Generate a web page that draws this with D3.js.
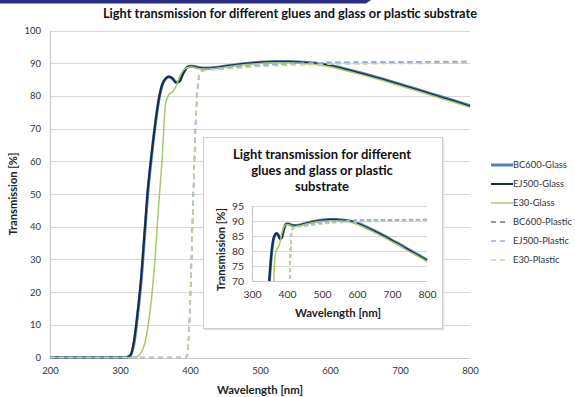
<!DOCTYPE html>
<html>
<head>
<meta charset="utf-8">
<script src="https://cdn.jsdelivr.net/npm/d3@7"></script>
<style>
  html, body { margin: 0; padding: 0; background: #fff; }
  svg { display: block; font-family: Lato, "Open Sans", sans-serif; }
</style>
</head>
<body>
<svg id="chart" width="575" height="397"></svg>
<script>
// Wavelength sample points (nm), shared by every series
const wavelengths = [200, 300, 310, 315, 320, 325, 330, 335, 340, 345, 350, 355, 360, 365, 370, 375, 380, 385, 390, 394, 396, 398, 400, 402, 404, 406, 408, 410, 412, 415, 420, 425, 440, 460, 480, 500, 520, 540, 560, 580, 600, 625, 650, 675, 700, 725, 750, 775, 800];

// Transmission (%) per series
const bc600Glass = [0, 0, 0.1, 0.6, 4.4, 12.8, 23, 37, 51, 61.5, 70.6, 78.2, 83.1, 85.2, 85.8, 85.3, 84.2, 84.5, 86.9, 88.3, 88.8, 89.0, 89.1, 89.1, 89.1, 89.0, 88.9, 88.8, 88.7, 88.6, 88.5, 88.5, 88.8, 89.4, 89.9, 90.3, 90.5, 90.5, 90.3, 90.0, 89.4, 88.1, 86.7, 85.2, 83.6, 82.0, 80.3, 78.7, 77.0];
const ej500Glass = [0, 0, 0.1, 0.8, 5, 13.5, 24, 38, 52, 62, 71, 78.5, 83.3, 85.3, 85.9, 85.3, 84.0, 84.4, 86.8, 88.2, 88.7, 88.9, 89.0, 89.0, 89.0, 88.9, 88.8, 88.7, 88.6, 88.5, 88.4, 88.4, 88.7, 89.3, 89.8, 90.2, 90.4, 90.4, 90.2, 89.9, 89.2, 87.9, 86.5, 85.0, 83.4, 81.8, 80.1, 78.5, 76.8];
const e30Glass = [0, 0, 0, 0, 0, 0.3, 1.5, 4, 9.5, 18, 30, 46, 60, 77.5, 80.4, 81.3, 82.9, 85.7, 87.7, 88.4, 88.6, 88.7, 88.8, 88.8, 88.8, 88.7, 88.6, 88.5, 88.4, 88.3, 88.2, 88.2, 88.5, 89.1, 89.6, 89.9, 90.1, 90.1, 89.9, 89.6, 88.9, 87.6, 86.2, 84.7, 83.1, 81.5, 79.8, 78.2, 76.5];
const bc600Plastic = [0, 0, 0, 0, 0, 0, 0, 0, 0, 0, 0, 0, 0, 0, 0, 0, 0, 0, 0, 0, 0.8, 5.5, 15, 29, 44, 58, 71, 79.5, 84.5, 87.2, 87.9, 88.1, 88.3, 88.6, 89.0, 89.3, 89.6, 89.8, 90.0, 90.1, 90.2, 90.2, 90.3, 90.3, 90.3, 90.4, 90.4, 90.4, 90.5];
const ej500Plastic = [0, 0, 0, 0, 0, 0, 0, 0, 0, 0, 0, 0, 0, 0, 0, 0, 0, 0, 0, 0, 1, 6, 16, 30, 45, 59, 72, 80, 85, 87.3, 88.0, 88.2, 88.4, 88.7, 89.1, 89.4, 89.7, 89.9, 90.0, 90.1, 90.2, 90.3, 90.3, 90.4, 90.4, 90.4, 90.5, 90.5, 90.5];
const e30Plastic = [0, 0, 0, 0, 0, 0, 0, 0, 0, 0, 0, 0, 0, 0, 0, 0, 0, 0, 0, 0, 0.8, 5, 14, 28, 43, 57, 70, 79, 84.3, 87.0, 87.7, 87.9, 88.1, 88.4, 88.7, 89.0, 89.2, 89.4, 89.5, 89.6, 89.7, 89.8, 89.8, 89.9, 89.9, 89.9, 90.0, 90.0, 90.0];

const seriesNames = ["BC600-Glass", "EJ500-Glass", "E30-Glass", "BC600-Plastic", "EJ500-Plastic", "E30-Plastic"];
const seriesValues = [bc600Glass, ej500Glass, e30Glass, bc600Plastic, ej500Plastic, e30Plastic];

// Axis ticks
const mainXTicks = [200, 300, 400, 500, 600, 700, 800];
const mainYTicks = [0, 10, 20, 30, 40, 50, 60, 70, 80, 90, 100];
const insetXTicks = [300, 400, 500, 600, 700, 800];
const insetYTicks = [70, 75, 80, 85, 90, 95];

// Text
const mainTitle = "Light transmission for different glues and glass or plastic substrate";
const insetTitle = ["Light transmission for different", "glues and glass or plastic", "substrate"];
const xTitle = "Wavelength [nm]";
const yTitle = "Transmission [%]";

// Series styling
const styles = [
  { color: "#4f81bd", width: 3.0, dash: null },
  { color: "#1c2a3f", width: 2.0, dash: null },
  { color: "#a9c76c", width: 1.5, dash: null },
  { color: "#8064a2", width: 1.6, dash: "5,4" },
  { color: "#8eb4e3", width: 1.6, dash: "5,4" },
  { color: "#c3d69b", width: 1.6, dash: "5,4" }
];

const series = seriesNames.map((name, i) => ({
  name,
  style: styles[i],
  points: wavelengths.map((w, j) => ({ w, t: seriesValues[i][j] }))
}));

const svg = d3.select("#chart");
svg.append("rect").attr("width", 575).attr("height", 397).attr("fill", "#fff");

// Slide header strip
svg.append("path")
  .attr("d", "M0,0 L371,0 L366,3.6 L0,3.6 Z")
  .attr("fill", "#2b2d7f");

const gridColor = "#d9d9d9";
const textColor = "#333";

// ---------- Main chart ----------
const x = d3.scaleLinear().domain([200, 800]).range([50, 470]);
const y = d3.scaleLinear().domain([0, 100]).range([357.5, 30.5]);

const main = svg.append("g");

main.append("g").selectAll("line")
  .data(mainYTicks.filter(v => v > 0))
  .join("line")
  .attr("x1", x(200)).attr("x2", x(800))
  .attr("y1", d => Math.round(y(d)) + 0.5).attr("y2", d => Math.round(y(d)) + 0.5)
  .attr("stroke", gridColor).attr("stroke-width", 1.2);

// axis lines
main.append("line")
  .attr("x1", x(200) + 0.5).attr("x2", x(200) + 0.5)
  .attr("y1", y(100)).attr("y2", y(0))
  .attr("stroke", "#c8c8c8").attr("stroke-width", 1.2);
main.append("line")
  .attr("x1", x(200)).attr("x2", x(800))
  .attr("y1", Math.round(y(0)) + 0.5).attr("y2", Math.round(y(0)) + 0.5)
  .attr("stroke", "#c8c8c8").attr("stroke-width", 1.2);

const yAxis = main.append("g")
  .attr("transform", `translate(${x(200)},0)`)
  .call(d3.axisLeft(y).tickValues(mainYTicks).tickSize(0).tickPadding(9));
yAxis.select(".domain").remove();

const xAxis = main.append("g")
  .attr("transform", `translate(0,${y(0)})`)
  .call(d3.axisBottom(x).tickValues(mainXTicks).tickSize(0).tickPadding(10));
xAxis.select(".domain").remove();

[yAxis, xAxis].forEach(a => a.selectAll("text")
  .attr("font-family", "Lato, sans-serif")
  .attr("font-size", 9.5)
  .attr("fill", textColor));

const line = d3.line()
  .x(d => x(d.w))
  .y(d => y(d.t))
  .curve(d3.curveMonotoneX);

main.append("g").selectAll("path")
  .data(series)
  .join("path")
  .attr("d", d => line(d.points))
  .attr("fill", "none")
  .attr("stroke", d => d.style.color)
  .attr("stroke-width", d => d.style.width)
  .attr("stroke-dasharray", d => d.style.dash)
  .attr("stroke-linejoin", "round");

svg.append("text")
  .attr("x", 290).attr("y", 17.5)
  .attr("text-anchor", "middle")
  .attr("font-size", 12.8).attr("font-weight", "bold")
  .attr("fill", "#111")
  .text(mainTitle);

svg.append("text")
  .attr("x", 260).attr("y", 393.5)
  .attr("text-anchor", "middle")
  .attr("font-size", 11.4).attr("font-weight", "bold")
  .attr("fill", "#222")
  .text(xTitle);

svg.append("text")
  .attr("transform", "translate(17,194) rotate(-90)")
  .attr("text-anchor", "middle")
  .attr("font-size", 11.2).attr("font-weight", "bold")
  .attr("fill", "#222")
  .text(yTitle);

// ---------- Legend ----------
const legend = svg.append("g");
const legendItem = legend.selectAll("g")
  .data(series)
  .join("g")
  .attr("transform", (d, i) => `translate(491,${165 + i * 19})`);
legendItem.append("line")
  .attr("x1", 0).attr("x2", d => d.style.dash ? 17 : 22)
  .attr("y1", 0).attr("y2", 0)
  .attr("stroke", d => d.style.color)
  .attr("stroke-width", d => d.style.width)
  .attr("stroke-dasharray", d => d.style.dash);
legendItem.append("text")
  .attr("x", 22).attr("y", 3.3)
  .attr("font-size", 9.4)
  .attr("fill", textColor)
  .text(d => d.name);

// ---------- Inset chart ----------
const inset = svg.append("g");
inset.append("rect")
  .attr("x", 204.5).attr("y", 138.5).attr("width", 240).attr("height", 192)
  .attr("fill", "#e6e6e6");
inset.append("rect")
  .attr("x", 203.5).attr("y", 137.5).attr("width", 239).attr("height", 191)
  .attr("fill", "#fff").attr("stroke", "#cfcfcf").attr("stroke-width", 1);

inset.append("g").selectAll("text")
  .data(insetTitle)
  .join("text")
  .attr("x", 322).attr("y", (d, i) => 158.5 + i * 16.3)
  .attr("text-anchor", "middle")
  .attr("font-size", 13).attr("font-weight", "bold")
  .attr("fill", "#111")
  .text(d => d);

const xi = d3.scaleLinear().domain([300, 800]).range([252, 427]);
const yi = d3.scaleLinear().domain([70, 95]).range([281, 206]);

inset.append("g").selectAll("line")
  .data(insetYTicks.filter(v => v > 70))
  .join("line")
  .attr("x1", xi(300)).attr("x2", xi(800))
  .attr("y1", d => Math.round(yi(d)) + 0.5).attr("y2", d => Math.round(yi(d)) + 0.5)
  .attr("stroke", gridColor).attr("stroke-width", 1.2);
inset.append("line")
  .attr("x1", xi(300) + 0.5).attr("x2", xi(300) + 0.5)
  .attr("y1", yi(95)).attr("y2", yi(70))
  .attr("stroke", "#c8c8c8").attr("stroke-width", 1.2);
inset.append("line")
  .attr("x1", xi(300)).attr("x2", xi(800))
  .attr("y1", Math.round(yi(70)) + 0.5).attr("y2", Math.round(yi(70)) + 0.5)
  .attr("stroke", "#c8c8c8").attr("stroke-width", 1.2);

const yiAxis = inset.append("g")
  .attr("transform", `translate(${xi(300)},0)`)
  .call(d3.axisLeft(yi).tickValues(insetYTicks).tickSize(0).tickPadding(8));
yiAxis.select(".domain").remove();
const xiAxis = inset.append("g")
  .attr("transform", `translate(0,${yi(70)})`)
  .call(d3.axisBottom(xi).tickValues(insetXTicks).tickSize(0).tickPadding(10));
xiAxis.select(".domain").remove();
[yiAxis, xiAxis].forEach(a => a.selectAll("text")
  .attr("font-family", "Lato, sans-serif")
  .attr("font-size", 10.4)
  .attr("fill", textColor));

svg.append("defs").append("clipPath").attr("id", "insetClip")
  .append("rect")
  .attr("x", xi(300)).attr("y", yi(95) - 2)
  .attr("width", xi(800) - xi(300) + 2).attr("height", yi(70) - yi(95) + 2);

const lineInset = d3.line()
  .x(d => xi(d.w))
  .y(d => yi(d.t))
  .curve(d3.curveMonotoneX);

inset.append("g")
  .attr("clip-path", "url(#insetClip)")
  .selectAll("path")
  .data(series)
  .join("path")
  .attr("d", d => lineInset(d.points))
  .attr("fill", "none")
  .attr("stroke", d => d.style.color)
  .attr("stroke-width", d => d.style.width)
  .attr("stroke-dasharray", d => d.style.dash ? "4,3" : null)
  .attr("stroke-linejoin", "round");

inset.append("text")
  .attr("x", 338).attr("y", 317)
  .attr("text-anchor", "middle")
  .attr("font-size", 11.4).attr("font-weight", "bold")
  .attr("fill", "#222")
  .text(xTitle);

inset.append("text")
  .attr("transform", "translate(225,249.5) rotate(-90)")
  .attr("text-anchor", "middle")
  .attr("font-size", 11.2).attr("font-weight", "bold")
  .attr("fill", "#222")
  .text(yTitle);
</script>
</body>
</html>
